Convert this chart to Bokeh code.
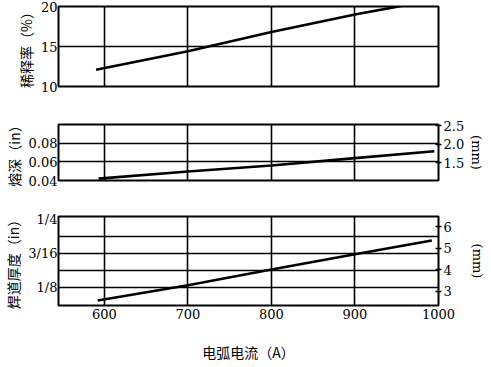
from bokeh.plotting import figure
from bokeh.models import Range1d, LinearAxis, FixedTicker, Grid, PrintfTickFormatter
from bokeh.layouts import column
from bokeh.embed import file_html
from bokeh.resources import INLINE

# ---- data ----
x_ticks = [600, 700, 800, 900, 1000]
x_grid = [600, 700, 800, 900]

dil_current = [590, 700, 800, 900, 962]
dilution = [12.1, 14.4, 16.8, 19.0, 20.2]          # %
dil_ticks = [10, 15, 20]
dil_grid = [15]

pen_current = [593, 700, 800, 900, 995]
penetration_in = [0.042, 0.0497, 0.056, 0.064, 0.0713]  # in
pen_ticks_in = [0.04, 0.06, 0.08]
pen_ticks_mm = [1.5, 2.0, 2.5]
pen_grid = [0.06, 0.08]

thk_current = [592, 700, 800, 900, 992]
thickness_in = [0.101, 0.129, 0.158, 0.1857, 0.211]     # in
thk_ticks_in = [0.125, 0.1875, 0.25]
thk_tick_labels = ["1/8", "3/16", "1/4"]
thk_grid = [0.125, 0.15625, 0.1875, 0.21875]
thk_ticks_mm = [3, 4, 5, 6]

MM = 25.4
NUM_FONT = "DejaVu Serif"
CJK_FONT = "Noto Sans CJK SC"

x_range = Range1d(545, 1000)


def style_axis(ax, label_font=CJK_FONT):
    ax.axis_line_color = None
    ax.major_tick_in = 0
    ax.major_tick_out = 0
    ax.minor_tick_in = 0
    ax.minor_tick_out = 0
    ax.major_label_text_font = NUM_FONT
    ax.major_label_text_font_size = "13px"
    ax.major_label_text_color = "black"
    ax.major_label_standoff = 1
    ax.axis_label_text_font = label_font
    ax.axis_label_text_font_size = "14px"
    ax.axis_label_text_font_style = "normal"
    ax.axis_label_text_color = "black"
    ax.axis_label_standoff = 2


def make_fig(y0, y1, frame_h, top, bottom):
    p = figure(x_range=x_range, y_range=Range1d(y0, y1),
               x_axis_type=None, y_axis_type=None,
               frame_width=380, frame_height=frame_h,
               min_border_left=51, min_border_right=44,
               min_border_top=top, min_border_bottom=bottom,
               output_backend="svg", toolbar_location=None)
    p.outline_line_color = "black"
    p.outline_line_width = 2
    p.background_fill_color = "white"
    p.border_fill_color = "white"
    p.add_layout(Grid(dimension=0, ticker=FixedTicker(ticks=x_grid),
                      grid_line_color="black", grid_line_width=1.6))
    return p


def style_right(ax, standoff):
    style_axis(ax, NUM_FONT)
    ax.axis_label_text_font_size = "13px"
    ax.major_label_standoff = 2
    ax.major_tick_out = 3
    ax.major_tick_in = 3
    ax.major_tick_line_color = "black"
    ax.major_tick_line_width = 1.5
    ax.axis_label_standoff = standoff


# ---- panel 1: dilution ----
p1 = make_fig(10, 20, 80, 6, 17)
ax1 = LinearAxis(ticker=FixedTicker(ticks=dil_ticks), axis_label="稀释率（%）")
style_axis(ax1)
p1.add_layout(ax1, "left")
p1.add_layout(Grid(dimension=1, ticker=FixedTicker(ticks=dil_grid),
                   grid_line_color="black", grid_line_width=1.6))
p1.line(dil_current, dilution, line_color="black", line_width=2.6)

# ---- panel 2: penetration ----
p2 = make_fig(0.04, 0.10, 56, 21, 19)
p2.extra_y_ranges = {"mm": Range1d(0.04 * MM, 0.10 * MM)}
ax2 = LinearAxis(ticker=FixedTicker(ticks=pen_ticks_in), axis_label="熔深（in）")
style_axis(ax2)
p2.add_layout(ax2, "left")
ax2r = LinearAxis(y_range_name="mm", ticker=FixedTicker(ticks=pen_ticks_mm),
                  formatter=PrintfTickFormatter(format="%.1f"), axis_label="(mm)")
style_right(ax2r, 2)
p2.add_layout(ax2r, "right")
p2.add_layout(Grid(dimension=1, ticker=FixedTicker(ticks=pen_grid),
                   grid_line_color="black", grid_line_width=1.6))
p2.line(pen_current, penetration_in, line_color="black", line_width=2.6)

# ---- panel 3: bead thickness ----
p3 = make_fig(0.092, 0.255, 89, 17, 53)
p3.extra_y_ranges = {"mm": Range1d(0.092 * MM, 0.255 * MM)}
ax3 = LinearAxis(ticker=FixedTicker(ticks=thk_ticks_in), axis_label="焊道厚度（in）",
                 major_label_overrides={t: s for t, s in zip(thk_ticks_in, thk_tick_labels)})
style_axis(ax3)
p3.add_layout(ax3, "left")
ax3r = LinearAxis(y_range_name="mm", ticker=FixedTicker(ticks=thk_ticks_mm),
                  axis_label="(mm)")
style_right(ax3r, 15)
p3.add_layout(ax3r, "right")
ax3x = LinearAxis(ticker=FixedTicker(ticks=x_ticks), axis_label="电弧电流（A）")
style_axis(ax3x)
ax3x.major_label_standoff = 3
ax3x.axis_label_standoff = 20
p3.add_layout(ax3x, "below")
p3.add_layout(Grid(dimension=1, ticker=FixedTicker(ticks=thk_grid),
                   grid_line_color="black", grid_line_width=1.6))
p3.line(thk_current, thickness_in, line_color="black", line_width=2.6)

layout = column(p1, p2, p3, spacing=0)
open("out.html", "w").write(file_html(layout, INLINE))
